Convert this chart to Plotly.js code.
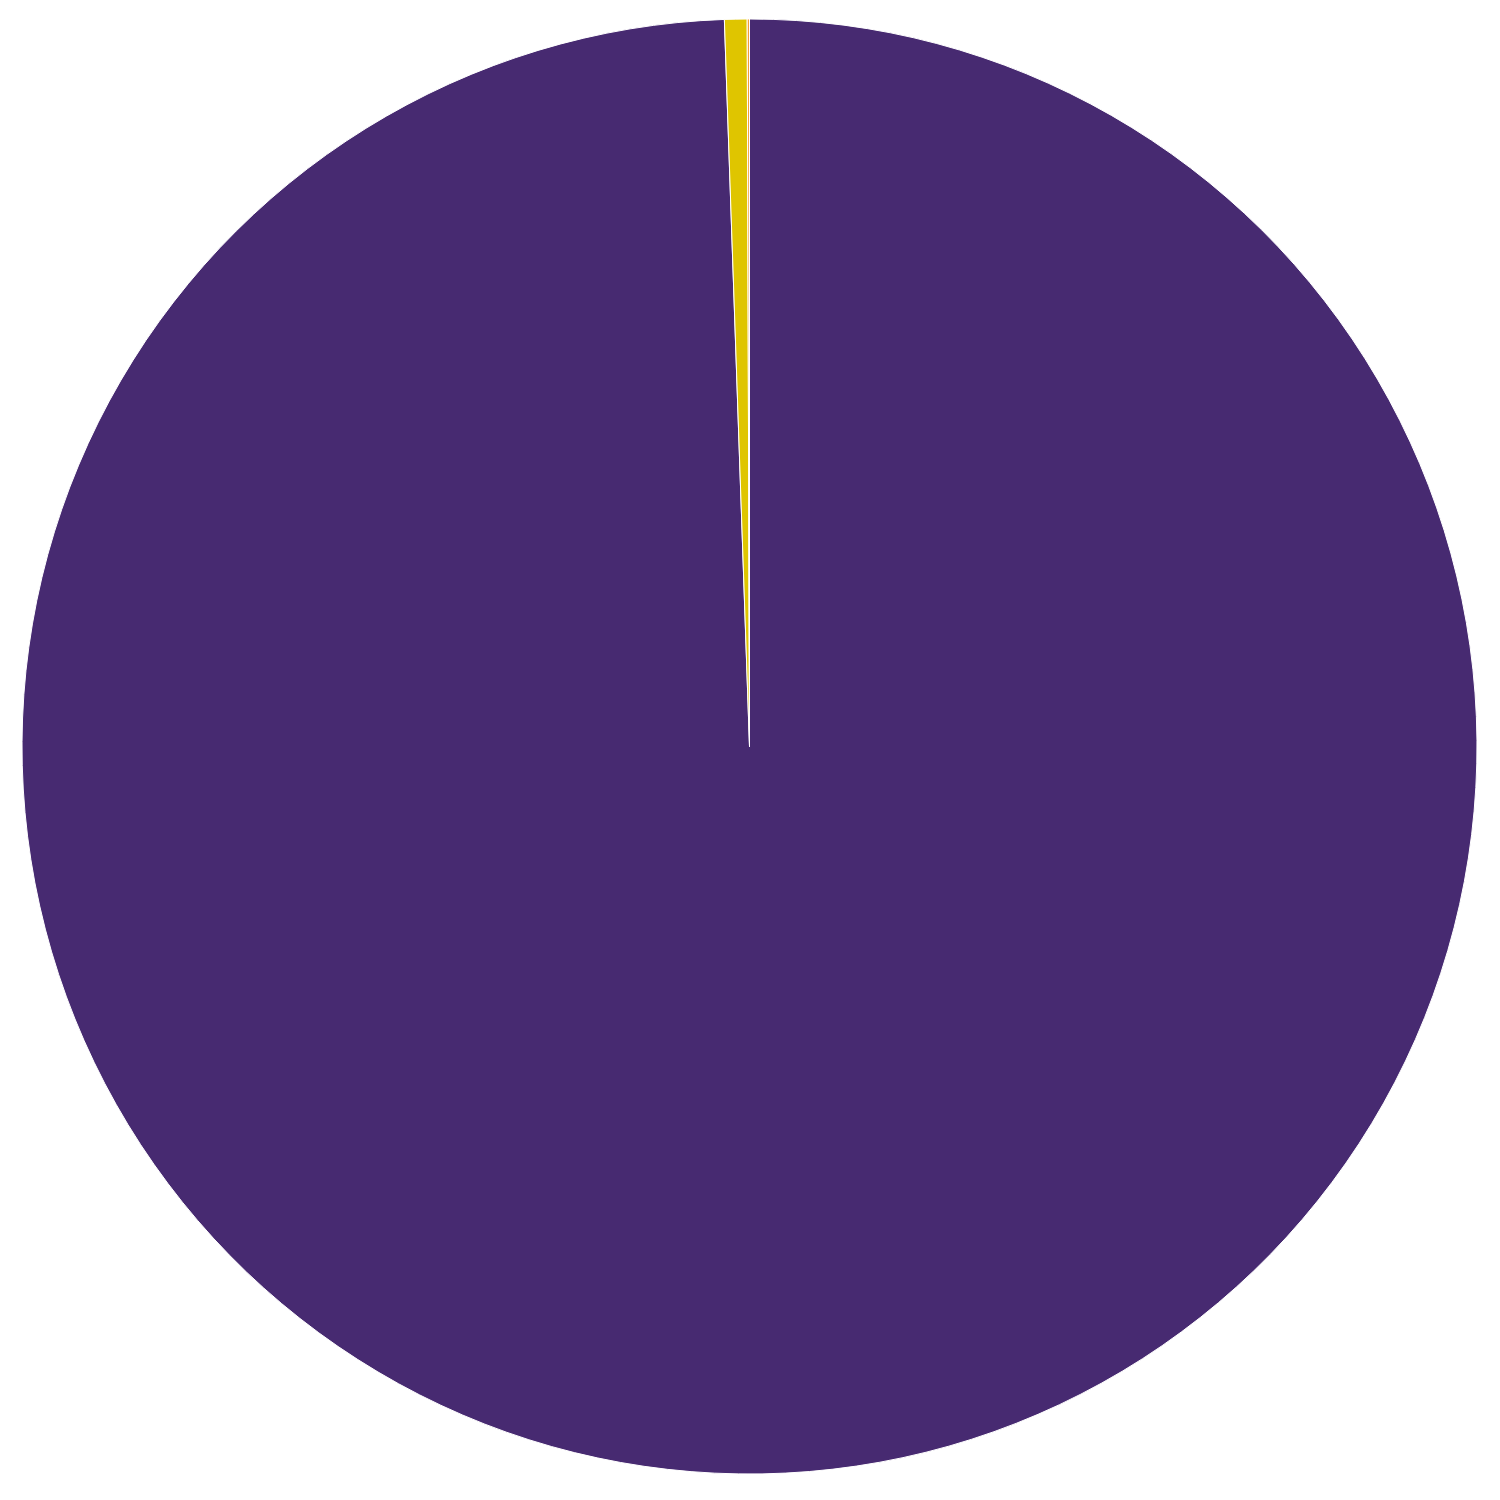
<!DOCTYPE html>
<html>
<head>
<meta charset="utf-8">
<script src="https://cdn.plot.ly/plotly-3.0.1.min.js"></script>
<style>
  html, body { margin: 0; padding: 0; background: #fff; }
  #chart { width: 1500px; height: 1500px; }
</style>
</head>
<body>
<div id="chart"></div>
<script>
// slice shares
const labels = ["A", "B", "C"];
const values = [99.45, 0.5, 0.05];
const colors = ["#472a71", "#dfc500", "#f4a03a"];

Plotly.newPlot(
  "chart",
  [
    {
      type: "pie",
      labels: labels,
      values: values,
      marker: { colors: colors, line: { color: "#ffffff", width: 1 } },
      textinfo: "none",
      hoverinfo: "label+percent",
      sort: false,
      direction: "clockwise",
      rotation: 0,
    },
  ],
  {
    width: 1500,
    height: 1500,
    showlegend: false,
    margin: { l: 22, r: 23, t: 19, b: 26 },
    paper_bgcolor: "#ffffff",
    plot_bgcolor: "#ffffff",
  },
  { displayModeBar: false }
);
</script>
</body>
</html>
